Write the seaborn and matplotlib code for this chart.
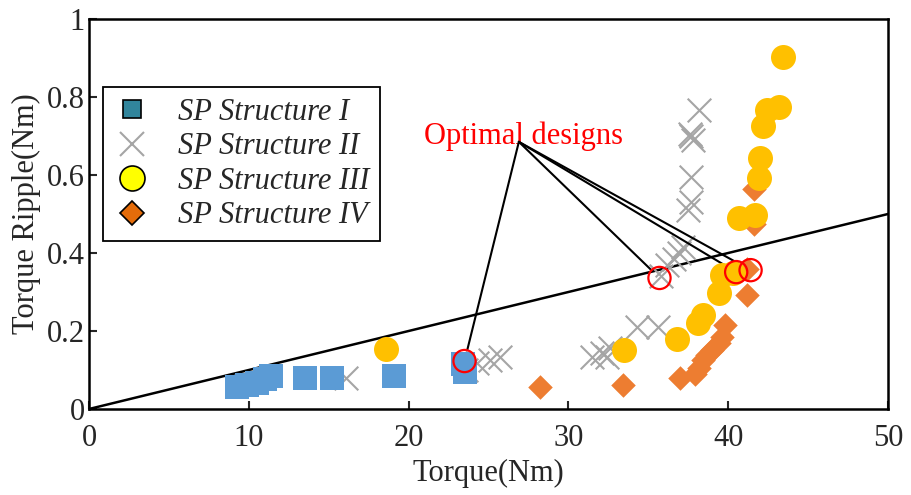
import numpy as np
import pandas as pd
import seaborn as sns
import matplotlib.pyplot as plt
from matplotlib.lines import Line2D

# SP Structure I (squares)
s1_torque = [9.26, 9.9, 10.5, 11.0, 11.4, 13.5, 15.2, 19.1, 23.4, 23.5]
s1_ripple = [0.056, 0.062, 0.067, 0.077, 0.085, 0.079, 0.079, 0.085, 0.115, 0.095]

# SP Structure II (crosses)
s2_torque = [16.1, 23.6, 24.3, 25.1, 25.7, 31.5, 32.1, 32.4, 32.6, 34.3, 35.6,
             35.8, 36.2, 36.6, 36.9, 37.2, 37.5, 37.7, 37.7, 37.6, 37.8, 37.7, 38.2]
s2_ripple = [0.079, 0.10, 0.118, 0.126, 0.133, 0.133, 0.143, 0.133, 0.156, 0.21, 0.21,
             0.34, 0.37, 0.385, 0.40, 0.415, 0.51, 0.53, 0.595, 0.705, 0.69, 0.70, 0.767]

# SP Structure III (circles)
s3_torque = [18.6, 33.5, 36.8, 38.1, 38.4, 39.4, 39.6, 40.3, 40.7, 41.7, 41.9,
             42.0, 42.2, 42.4, 43.2, 43.4]
s3_ripple = [0.154, 0.151, 0.179, 0.22, 0.24, 0.297, 0.344, 0.35, 0.49, 0.497, 0.592,
             0.644, 0.725, 0.767, 0.774, 0.903]

# SP Structure IV (diamonds)
s4_torque = [28.2, 33.4, 37.0, 37.9, 38.2, 38.4, 38.7, 39.0, 39.4, 39.6, 39.8,
             41.2, 41.2, 41.6, 41.6]
s4_ripple = [0.056, 0.062, 0.08, 0.09, 0.105, 0.125, 0.138, 0.151, 0.169, 0.185, 0.215,
             0.292, 0.36, 0.475, 0.565]

# optimal designs
opt_torque = [23.5, 35.7, 40.5, 41.4]
opt_ripple = [0.123, 0.336, 0.351, 0.356]

line_x = [0, 50]
line_y = [0, 0.5]

sns.set_style('ticks')
plt.rcParams['font.family'] = ['Liberation Serif', 'DejaVu Serif']
plt.rcParams['font.size'] = 22

fig = plt.figure(figsize=(9.12, 4.95), dpi=100)
ax = fig.add_axes([89 / 912, 1 - 409 / 495, 799 / 912, 390 / 495])

sns.lineplot(x=line_x, y=line_y, color='black', linewidth=1.8, ax=ax, zorder=1)

sns.scatterplot(x=s2_torque, y=s2_ripple, marker='x', color='#A5A5A5', s=17 ** 2,
                linewidth=1.5, ax=ax, zorder=2)
sns.scatterplot(x=s1_torque, y=s1_ripple, marker='s', color='#5B9BD5', s=17.5 ** 2,
                linewidth=0, ax=ax, zorder=3)
sns.scatterplot(x=s4_torque, y=s4_ripple, marker='D', color='#ED7D31', s=12.5 ** 2,
                linewidth=0, ax=ax, zorder=3)
sns.scatterplot(x=s3_torque, y=s3_ripple, marker='o', color='#FFC000', s=18 ** 2,
                linewidth=0, ax=ax, zorder=4)
sns.scatterplot(x=opt_torque, y=opt_ripple, marker='o', facecolor='none', edgecolor='red',
                s=16 ** 2, linewidth=1.6, ax=ax, zorder=5)

ax.text(27.2, 0.70, 'Optimal designs', color='red', ha='center', va='center', fontsize=22)
for tx, ty in zip(opt_torque, opt_ripple):
    ax.annotate('', xy=(tx, ty), xytext=(26.9, 0.685),
                arrowprops=dict(arrowstyle='-', color='black', lw=1.5,
                                shrinkA=0, shrinkB=8))

ax.set_xlim(0, 50)
ax.set_ylim(0, 1)
ax.set_xticks([0, 10, 20, 30, 40, 50])
ax.set_yticks([0, 0.2, 0.4, 0.6, 0.8, 1])
ax.set_yticklabels(['0', '0.2', '0.4', '0.6', '0.8', '1'])
ax.tick_params(direction='in', length=6, width=1.5, labelsize=22)
ax.tick_params(axis='x', pad=11)
ax.tick_params(axis='y', pad=3)
for sp in ax.spines.values():
    sp.set_linewidth(1.8)
    sp.set_color('black')
ax.set_xlabel('Torque(Nm)', fontsize=22, labelpad=4)
ax.set_ylabel('Torque Ripple(Nm)', fontsize=22, labelpad=4)

handles = [
    Line2D([], [], marker='s', linestyle='none', markerfacecolor='#31859C',
           markeredgecolor='black', markersize=13, markeredgewidth=1.2),
    Line2D([], [], marker='x', linestyle='none', color='#A5A5A5', markersize=17,
           markeredgewidth=1.5),
    Line2D([], [], marker='o', linestyle='none', markerfacecolor='#FFFF00',
           markeredgecolor='black', markersize=18, markeredgewidth=1.2),
    Line2D([], [], marker='D', linestyle='none', markerfacecolor='#E46C0A',
           markeredgecolor='black', markersize=12, markeredgewidth=1.2),
]
labels = ['SP Structure I', 'SP Structure II', 'SP Structure III', 'SP Structure IV']
leg = ax.legend(handles, labels, loc='upper left',
                bbox_to_anchor=(103 / 912, 1 - 87 / 495), bbox_transform=fig.transFigure,
                prop={'style': 'italic', 'size': 22}, frameon=True, fancybox=False,
                edgecolor='black', framealpha=1, handlelength=1.2, handletextpad=0.9,
                labelspacing=0.18, borderpad=0.35, borderaxespad=0)
leg.get_frame().set_linewidth(1.3)

fig.savefig('out.png', dpi=100)
